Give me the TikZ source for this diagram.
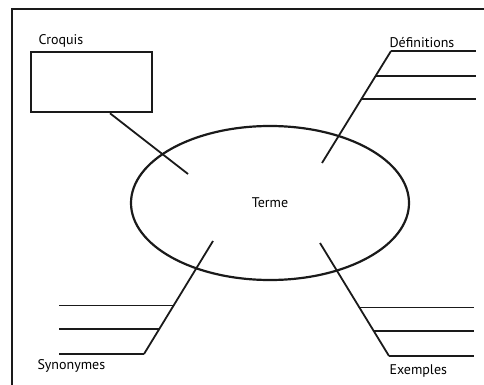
\documentclass[tikz,border=0pt]{standalone}
\usepackage{fontspec}
\setmainfont{PT Sans}
\usetikzlibrary{shapes.geometric, calc}
\definecolor{inkgray}{HTML}{1a1a1a}
\newcommand{\drawbranch}[3]{
  \draw[branchline] (#1) -- (#2);
  \foreach \t in {0.57, 0.78, 1} {
    \coordinate (p) at ($(#1)!\t!(#2)$);
    \draw[branchline] (p) -- (p -| #3);
  }
}

\begin{document}
\begin{tikzpicture}[x=1pt, y=-1pt,
    every node/.style={font=\fontsize{14}{16}\selectfont},
    branchline/.style={inkgray, line width=1.8pt}]
    \useasboundingbox (0,0) rectangle (484,385);
    % frame
    \draw[inkgray, line width=2.4pt] (12,385) -- (12,9) -- (484,9);

    \node[draw=inkgray, ellipse, line width=2.2pt, minimum width=278pt, minimum height=154pt, inner sep=0pt] (terme) at (270,203) {Terme};

    \node[draw=inkgray, line width=2.6pt, minimum width=121pt, minimum height=60pt] (croquis) at (91.5,82) {};
    \node[anchor=base west] (croquislabel) at (35,45) {Croquis};
    \coordinate (croquisend) at (188,174);
    \draw[branchline] ([xshift=18.5pt]croquis.south) -- (croquisend);

    % definitions
    \coordinate (definner) at (322,163);
    \coordinate (defouter) at (391,51);
    \coordinate (defend) at (476,0);
    \drawbranch{definner}{defouter}{defend}
    \node[anchor=base west] (deflabel) at (386,48) {Définitions};

    % synonymes
    \coordinate (syninner) at (213,241);
    \coordinate (synouter) at (144,354);
    \coordinate (synend) at (59,0);
    \drawbranch{syninner}{synouter}{synend}
    \node[anchor=base west] (synlabel) at (34,369) {Synonymes};

    % exemples
    \coordinate (exinner) at (320,243);
    \coordinate (exouter) at (389,356);
    \coordinate (exend) at (474,0);
    \drawbranch{exinner}{exouter}{exend}
    \node[anchor=base west] (exlabel) at (386,374) {Exemples};
\end{tikzpicture}
\end{document}
